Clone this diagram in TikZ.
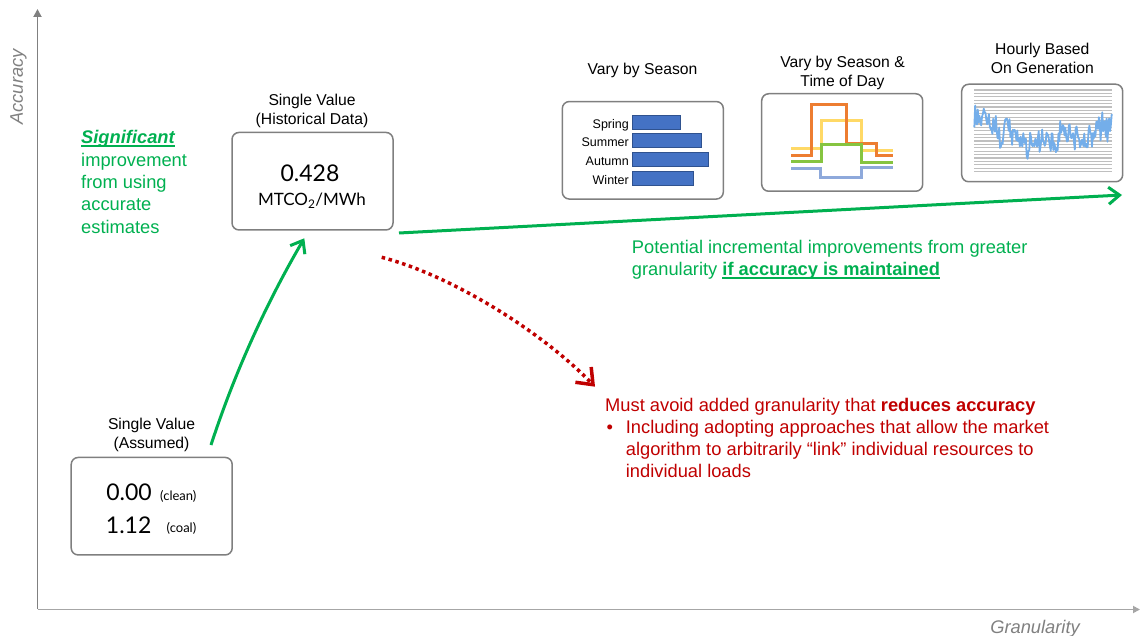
\documentclass[tikz,border=0pt]{standalone}
\usepackage{fontspec}
\setmainfont{Liberation Sans}
\newfontfamily\gill{Lato}
\usetikzlibrary{arrows.meta}
\definecolor{grn}{HTML}{00B050}
\definecolor{rd}{HTML}{C00000}
\definecolor{boxgray}{HTML}{7F7F7F}
\definecolor{axgray}{HTML}{808080}
\definecolor{axlight}{HTML}{A6A6A6}
\definecolor{barblue}{HTML}{4472C4}
\definecolor{baredge}{HTML}{2F528F}
\definecolor{lorange}{HTML}{ED7D31}
\definecolor{lyellow}{HTML}{FFD966}
\definecolor{lgreen}{HTML}{86C440}
\definecolor{lblue}{HTML}{8EA9DB}
\definecolor{hblue}{HTML}{74AEEA}
\definecolor{hgray}{HTML}{BFBFBF}
\newcommand\twolines[2]{\begin{tabular}[t]{@{}c@{}}#1\\#2\end{tabular}}
\newsavebox\ulbox
\newcommand\myul[1]{\leavevmode\sbox\ulbox{#1}\rlap{\raisebox{-3pt}{\rule{\wd\ulbox}{1.6pt}}}\usebox\ulbox}
\begin{document}
\begin{tikzpicture}[x=1pt,y=-1pt,
  vbox/.style={draw=boxgray, line width=1.5pt, rounded corners=7pt, minimum width=161pt, minimum height=97.5pt, inner sep=0},
  lbl/.style={font=\fontsize{15.7}{19}\selectfont, inner sep=0, anchor=base},
  bignum/.style={font=\gill\fontsize{23}{27}\selectfont, inner sep=0, anchor=base},
  smallnote/.style={font=\gill\fontsize{13}{15}\selectfont, inner sep=0, anchor=base west},
  unitlbl/.style={font=\gill\fontsize{17}{20}\selectfont, inner sep=0, anchor=base},
  season/.style={font=\fontsize{12.5}{15}\selectfont, inner sep=0, anchor=base east},
  bar/.style={fill=barblue, draw=baredge, line width=0.6pt},
  bodytext/.style={font=\fontsize{18.3}{22.3}\selectfont, inner sep=0, anchor=base west},
  axislbl/.style={font=\itshape\fontsize{18.3}{22}\selectfont, text=axgray, inner sep=0, anchor=base},
  grnarrow/.style={draw=grn, line width=3pt, -{Straight Barb[length=11pt,width=17pt]}},
  redarrow/.style={draw=rd, line width=3.5pt, dash pattern=on 3.5pt off 3.6pt, -{Straight Barb[length=14pt,width=22pt,line width=3.5pt]}},
  stepline/.style={line width=3pt, sharp corners},
]
\useasboundingbox (0,0) rectangle (1140,636);

% axes
\coordinate (O) at (37.5,609.5);
\coordinate (Ytop) at (37.5,9);
\coordinate (Xend) at (1140,609.5);
\draw[axlight, line width=1.8pt, -{Triangle[length=7pt,width=7pt]}] (O) -- (Xend);
\draw[axgray, line width=1.8pt, -{Triangle[length=8pt,width=8pt]}] ([yshift=0.9pt]O) -- (Ytop);
\node[axislbl, rotate=90] (acc) at (23,87) {Accuracy};
\node[axislbl] (gran) at (1035,633) {Granularity};

% box 1: assumed
\node[vbox] (assumed) at (151.7,506.2) {};
\node[lbl] (lblA) at (151.5,429.3) {\twolines{Single Value}{(Assumed)}};
\node[bignum] (zero) at (129,500.7) {0.00};
\node[smallnote] (clean) at (160,500.5) {(clean)};
\node[bignum] (coal) at (128.7,533.3) {1.12};
\node[smallnote] (coaln) at (166.5,532) {(coal)};

% box 2: historical
\node[vbox] (hist) at (312.5,181.2) {};
\node[lbl] (lblH) at (312,106) {\twolines{Single Value}{(Historical Data)}};
\node[bignum] (val) at (310,181.7) {0.428};
\node[unitlbl] (unit) at (312,206) {MTCO\textsubscript{2}/MWh};

% box 3: season
\node[vbox] (seas) at (642.8,150.3) {};
\node[lbl] (lblS) at (642.5,75) {Vary by Season};
\draw[bar] (632.7,115) rectangle (680.3,129);
\draw[bar] (632.7,133.7) rectangle (701.7,147);
\draw[bar] (632.7,152.3) rectangle (708.3,166);
\draw[bar] (632.7,171) rectangle (693.7,185.3);
\node[season] (spr) at (629,128.3) {Spring};
\node[season] (sum) at (629,147) {Summer};
\node[season] (aut) at (629,165.7) {Autumn};
\node[season] (win) at (629,184.5) {Winter};

% box 4: season & time of day
\node[vbox] (tod) at (842.2,142.5) {};
\node[lbl] (lblT) at (842.5,67.7) {\twolines{Vary by Season \&}{Time of Day}};
\draw[stepline, lyellow] (791,148.3) -- (821.7,148.3) -- (821.7,121) -- (861.7,121) -- (861.7,151) -- (893.3,151);
\draw[stepline, lorange] (791,156) -- (811.7,156) -- (811.7,105) -- (846,105) -- (846,143.3) -- (876.7,143.3) -- (876.7,155.7) -- (893.3,155.7);
\draw[stepline, lblue] (791,168.3) -- (820.7,168.3) -- (820.7,177.7) -- (861.7,177.7) -- (861.7,167.3) -- (893.3,167.3);
\draw[stepline, lgreen] (791,161.7) -- (821.7,161.7) -- (821.7,145) -- (861.7,145) -- (861.7,162.3) -- (893.3,162.3);

% box 5: hourly
\node[vbox] (hour) at (1042.2,133) {};
\node[lbl] (lblG) at (1042.3,55) {\twolines{Hourly Based}{On Generation}};
\foreach \k in {0,...,24}
  \draw[hgray, line width=1.2pt] (974.3,{90+\k*3.4}) -- (1111.7,{90+\k*3.4});
\pgfmathsetseed{2024}
\gdef\yprev{118}
\gdef\hlist{}
\foreach \i in {0,...,160}{
  \pgfmathsetmacro\basey{\i<10 ? 112 : (\i<110 ? 134 : 134-0.45*(\i-110))}
  \pgfmathsetmacro\ywalk{\yprev + 0.12*(\basey-\yprev) + 6*rand}
  \pgfmathsetmacro\ynew{max(96,min(168,\ywalk + 11*rand))}
  \pgfmathsetmacro\xx{974.3+\i*0.859}
  \xdef\yprev{\ywalk}
  \xdef\hlist{\hlist (\xx,\ynew)}
}
\draw[hblue, line width=1.8pt, line join=round] plot coordinates {\hlist};

% arrows
\coordinate (a1s) at (211,445);
\coordinate (a1e) at (304.3,238.3);
\draw[grnarrow] (a1s) .. controls (234.2,373.9) and (265.3,305) .. (a1e);
\coordinate (a2s) at (399,233);
\coordinate (a2e) at (1122,195);
\draw[grnarrow] (a2s) -- (a2e);
\coordinate (a3s) at (381.7,257.3);
\coordinate (a3e) at (595,386.7);
\draw[redarrow] (a3s) .. controls (450,275) and (540,330) .. (a3e);

% texts
\node[bodytext, text=grn] (signif) at (81,144) {\begin{minipage}[t]{140pt}\myul{\textbf{\textit{Significant}}}\\improvement\\from using\\accurate\\estimates\end{minipage}};
\node[bodytext, text=grn] (potential) at (631.7,253.3) {\begin{minipage}[t]{500pt}Potential incremental improvements from greater\\granularity \myul{\textbf{if accuracy is maintained}}\end{minipage}};
\node[bodytext, text=rd] (avoid) at (605,411) {\begin{minipage}[t]{500pt}Must avoid added granularity that \textbf{reduces accuracy}\par
\hangindent=20.7pt\hangafter=1\makebox[20.7pt][l]{\hspace{1.5pt}•}Including adopting approaches that allow the market\\algorithm to arbitrarily “link” individual resources to\\individual loads\end{minipage}};
\end{tikzpicture}
\end{document}
